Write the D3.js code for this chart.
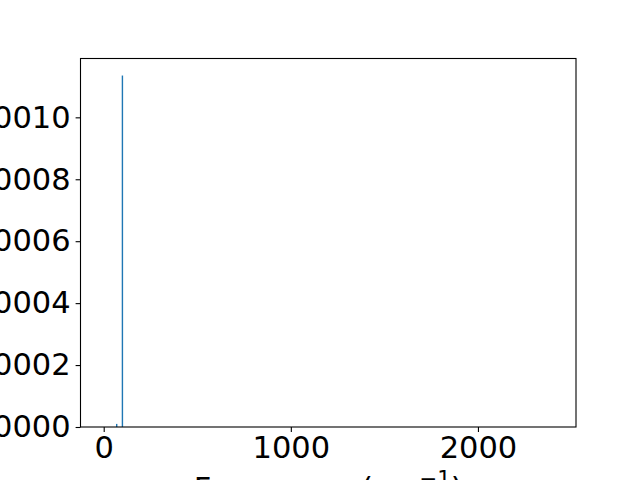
<!DOCTYPE html>
<html><head><meta charset="utf-8">
<script src="https://cdn.jsdelivr.net/npm/d3@7"></script>
<style>body{margin:0;background:#fff}svg{display:block}text{font-family:"DejaVu Sans",sans-serif}</style>
</head><body>
<svg id="c" width="640" height="480"></svg>
<script>
const frequencies = [69.5, 100];
const intensities = [0.000010, 0.001135];
const xTicks = [0, 1000, 2000];
const yTicks = [0, 0.0002, 0.0004, 0.0006, 0.0008, 0.0010];
const xDomain = [-124, 2524];
const yDomain = [0, 0.00119];

const svg = d3.select("#c");
const L = 80.5, R = 576, T = 58.5, B = 427;
const x = d3.scaleLinear().domain(xDomain).range([L, R]);
const y = d3.scaleLinear().domain(yDomain).range([B, T]);
const fs = 30.5;

svg.append("g").selectAll("rect").data(frequencies).join("rect")
  .attr("x", d => x(d) - 0.7).attr("width", 1.4)
  .attr("y", (d, i) => y(intensities[i]))
  .attr("height", (d, i) => B - y(intensities[i]))
  .attr("fill", "#1f77b4");

const xa = svg.append("g").attr("transform", `translate(0,${B})`)
  .call(d3.axisBottom(x).tickValues(xTicks).tickFormat(d3.format("d")).tickSize(4.9).tickPadding(4));
const ya = svg.append("g").attr("transform", `translate(${L},0)`)
  .call(d3.axisLeft(y).tickValues(yTicks).tickFormat(d3.format(".4f")).tickSize(4.9).tickPadding(5));
[xa, ya].forEach(g => {
  g.select(".domain").remove();
  g.selectAll("line").attr("stroke", "#000").attr("stroke-width", 1.1);
  g.selectAll("text").attr("font-size", fs).attr("fill", "#000").attr("font-family", '"DejaVu Sans"');
});

svg.append("rect").attr("x", L).attr("y", T).attr("width", R - L).attr("height", B - T)
  .attr("fill", "none").attr("stroke", "#000").attr("stroke-width", 1.1);

const xl = svg.append("text").attr("x", (L + R) / 2).attr("y", 499).attr("text-anchor", "middle")
  .attr("font-size", fs).attr("fill", "#000");
xl.append("tspan").text("Frequency (cm");
xl.append("tspan").attr("dy", -13).attr("font-size", fs * 0.7).text("−1");
xl.append("tspan").attr("dy", 13).text(")");
</script>
</body></html>
